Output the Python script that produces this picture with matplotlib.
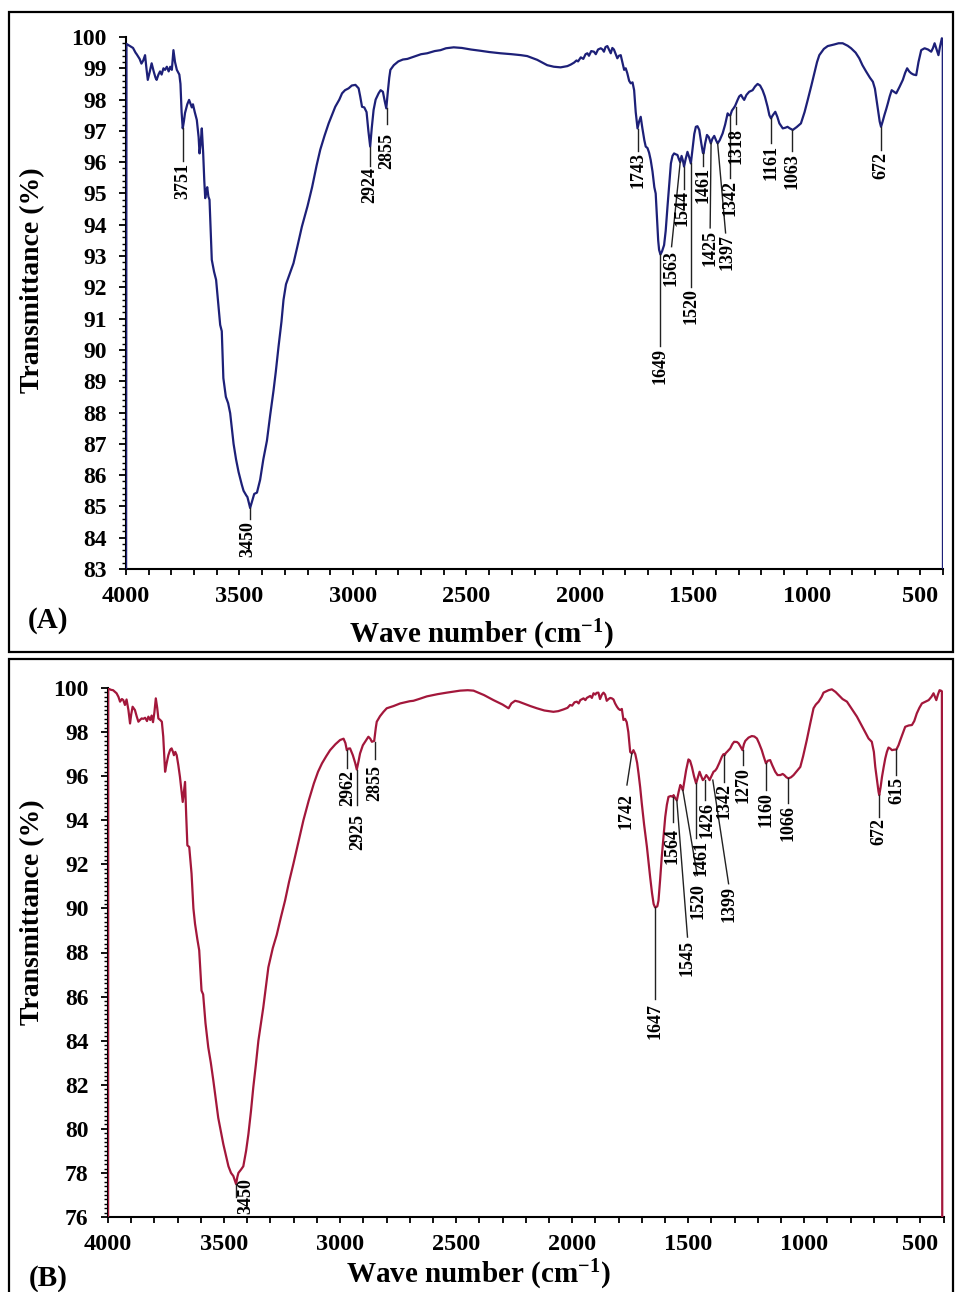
import matplotlib
matplotlib.use("Agg")
import matplotlib.pyplot as plt
from matplotlib.patches import Rectangle
from matplotlib.ticker import MultipleLocator

plt.rcParams['font.family'] = ['Liberation Serif', 'DejaVu Serif']
plt.rcParams['font.weight'] = 'bold'
plt.rcParams['mathtext.fontset'] = 'custom'
plt.rcParams['mathtext.rm'] = 'Liberation Serif:bold'
plt.rcParams['mathtext.bf'] = 'Liberation Serif:bold'
plt.rcParams['mathtext.it'] = 'Liberation Serif:bold'

# ---------------- Data: spectrum A ----------------
wn_a = [4000, 3998, 3985, 3969, 3958, 3953, 3940, 3932, 3924, 3916, 3910, 3904, 3895, 3887, 3878, 3870,
        3865, 3857, 3850, 3843, 3835, 3828, 3820, 3812, 3805, 3798, 3791, 3784, 3776, 3765, 3760, 3755,
        3750, 3745, 3740, 3730, 3722, 3715, 3710, 3705, 3697, 3688, 3680, 3676, 3671, 3666, 3660, 3655,
        3651, 3646, 3642, 3637, 3632, 3627, 3622, 3612, 3603, 3595, 3585, 3578, 3571, 3560, 3550, 3541,
        3526, 3515, 3504, 3490, 3482, 3470, 3465, 3453, 3447, 3441, 3435, 3423, 3409, 3395, 3379, 3365,
        3350, 3340, 3328, 3315, 3306, 3295, 3280, 3262, 3245, 3225, 3200, 3180, 3160, 3144, 3125, 3107,
        3090, 3078, 3060, 3048, 3035, 3019, 3005, 2989, 2975, 2968, 2960, 2950, 2940, 2932, 2924, 2917,
        2909, 2900, 2887, 2878, 2868, 2860, 2853, 2847, 2840, 2835, 2820, 2800, 2780, 2760, 2732, 2700,
        2673, 2640, 2614, 2590, 2556, 2520, 2480, 2438, 2400, 2350, 2300, 2260, 2232, 2210, 2188, 2165,
        2144, 2115, 2085, 2055, 2040, 2026, 2015, 2008, 1996, 1985, 1975, 1967, 1960, 1950, 1938, 1930,
        1920, 1908, 1900, 1894, 1887, 1879, 1872, 1864, 1857, 1850, 1842, 1835, 1828, 1820, 1813, 1805,
        1798, 1791, 1783, 1776, 1768, 1761, 1754, 1746, 1739, 1732, 1725, 1716, 1710, 1702, 1695, 1688,
        1680, 1672, 1666, 1660, 1655, 1651, 1645, 1638, 1629, 1622, 1614, 1606, 1599, 1592, 1585, 1577,
        1570, 1564, 1558, 1552, 1546, 1541, 1534, 1526, 1518, 1511, 1504, 1496, 1489, 1482, 1474, 1465,
        1458, 1455, 1448, 1440, 1432, 1423, 1416, 1408, 1400, 1393, 1384, 1371, 1360, 1349, 1343, 1337,
        1330, 1323, 1316, 1305, 1298, 1290, 1282, 1276, 1266, 1254, 1245, 1239, 1228, 1217, 1206, 1195,
        1185, 1173, 1165, 1158, 1150, 1139, 1130, 1121, 1106, 1095, 1085, 1075, 1062, 1045, 1026, 1010,
        996, 980, 967, 955, 945, 925, 908, 880, 860, 842, 820, 805, 785, 769, 755, 739,
        722, 709, 700, 695, 685, 679, 673, 666, 658, 650, 643, 635, 626, 616, 606, 592,
        577, 567, 558, 549, 540, 530, 518, 508, 496, 481, 466, 452, 444, 437, 428, 420,
        413, 405, 401, 400]
t_a = [80.0, 99.78, 99.72, 99.65, 99.5, 99.45, 99.3, 99.15, 99.25, 99.42, 99.0, 98.63, 98.9, 99.16, 98.9, 98.7,
       98.63, 98.8, 98.9, 98.8, 99.0, 98.95, 99.05, 98.9, 99.05, 98.95, 99.58, 99.2, 98.95, 98.8, 98.5, 97.6,
       97.08, 97.3, 97.57, 97.85, 97.99, 97.85, 97.75, 97.85, 97.6, 97.35, 96.8, 96.28, 96.6, 97.08, 96.3, 95.4,
       94.85, 95.1, 95.2, 94.9, 94.8, 93.8, 92.88, 92.5, 92.24, 91.6, 90.8, 90.6, 89.1, 88.5, 88.3, 87.98,
       87.0, 86.5, 86.1, 85.7, 85.5, 85.35, 85.3, 84.95, 85.1, 85.26, 85.4, 85.44, 85.85, 86.5, 87.1, 87.9,
       88.7, 89.3, 90.1, 90.9, 91.6, 92.1, 92.4, 92.77, 93.3, 93.94, 94.6, 95.2, 95.9, 96.4, 96.85, 97.24,
       97.55, 97.77, 98.0, 98.2, 98.3, 98.36, 98.45, 98.47, 98.36, 98.1, 97.77, 97.75, 97.6, 97.0, 96.5, 97.1,
       97.67, 98.0, 98.2, 98.3, 98.25, 97.95, 97.72, 98.2, 98.7, 98.95, 99.1, 99.22, 99.28, 99.3, 99.37, 99.45,
       99.48, 99.55, 99.58, 99.64, 99.67, 99.65, 99.6, 99.56, 99.52, 99.48, 99.45, 99.42, 99.39, 99.33, 99.27, 99.18,
       99.1, 99.05, 99.03, 99.07, 99.12, 99.18, 99.25, 99.22, 99.35, 99.3, 99.45, 99.48, 99.4, 99.55, 99.53, 99.45,
       99.6, 99.64, 99.6, 99.53, 99.68, 99.71, 99.6, 99.48, 99.65, 99.6, 99.45, 99.32, 99.4, 99.42, 99.2, 98.95,
       99.0, 98.84, 98.6, 98.52, 98.55, 98.3, 97.6, 97.08, 97.3, 97.45, 97.1, 96.7, 96.5, 96.45, 96.3, 96.07,
       95.7, 95.2, 95.0, 94.2, 93.5, 93.2, 93.05, 93.15, 93.35, 93.8, 94.58, 95.3, 95.96, 96.2, 96.28, 96.25,
       96.23, 96.1, 96.0, 96.2, 96.05, 95.86, 96.1, 96.33, 96.15, 95.96, 96.4, 96.9, 97.13, 97.15, 97.03, 96.6,
       96.3, 96.28, 96.6, 96.87, 96.8, 96.6, 96.75, 96.84, 96.7, 96.6, 96.7, 96.92, 97.2, 97.56, 97.5, 97.5,
       97.65, 97.72, 97.8, 97.99, 98.1, 98.15, 98.05, 97.99, 98.15, 98.25, 98.28, 98.3, 98.42, 98.5, 98.45, 98.3,
       98.1, 97.77, 97.5, 97.4, 97.5, 97.61, 97.45, 97.24, 97.08, 97.1, 97.13, 97.08, 97.03, 97.12, 97.24, 97.6,
       97.99, 98.45, 98.84, 99.2, 99.42, 99.62, 99.71, 99.76, 99.8, 99.8, 99.72, 99.64, 99.5, 99.32, 99.1, 98.9,
       98.7, 98.57, 98.35, 98.1, 97.6, 97.3, 97.13, 97.3, 97.51, 97.7, 97.88, 98.1, 98.3, 98.25, 98.2, 98.4,
       98.63, 98.85, 99.0, 98.9, 98.84, 98.8, 98.78, 99.2, 99.58, 99.64, 99.6, 99.53, 99.65, 99.8, 99.6, 99.42,
       99.7, 99.96, 99.9, 80.0]

# ---------------- Data: spectrum B ----------------
wn_b = [4000, 3999, 3988, 3978, 3963, 3955, 3948, 3940, 3934, 3927, 3920, 3912, 3905, 3900, 3894, 3884,
        3876, 3869, 3862, 3855, 3848, 3840, 3832, 3826, 3818, 3812, 3806, 3800, 3794, 3788, 3783, 3775,
        3768, 3762, 3754, 3747, 3740, 3732, 3726, 3720, 3716, 3710, 3704, 3697, 3690, 3684, 3678, 3673,
        3668, 3663, 3658, 3650, 3645, 3640, 3632, 3625, 3615, 3607, 3597, 3590, 3580, 3568, 3557, 3546,
        3535, 3525, 3514, 3503, 3492, 3481, 3470, 3460, 3448, 3443, 3438, 3427, 3417, 3405, 3395, 3384,
        3374, 3363, 3352, 3341, 3331, 3320, 3309, 3290, 3273, 3255, 3237, 3220, 3201, 3180, 3158, 3135,
        3113, 3095, 3078, 3060, 3043, 3020, 3000, 2985, 2977, 2971, 2964, 2957, 2945, 2935, 2928, 2920,
        2914, 2902, 2892, 2878, 2870, 2863, 2853, 2846, 2842, 2828, 2813, 2799, 2770, 2741, 2700, 2684,
        2660, 2626, 2580, 2540, 2500, 2483, 2450, 2425, 2380, 2339, 2300, 2274, 2262, 2246, 2230, 2210,
        2180, 2152, 2120, 2081, 2060, 2037, 2020, 2009, 2000, 1990, 1980, 1972, 1965, 1951, 1943, 1937,
        1922, 1915, 1908, 1900, 1895, 1887, 1880, 1872, 1865, 1858, 1851, 1843, 1836, 1829, 1822, 1815,
        1807, 1800, 1793, 1786, 1779, 1772, 1765, 1758, 1750, 1743, 1736, 1728, 1720, 1714, 1707, 1700,
        1690, 1678, 1670, 1664, 1656, 1649, 1643, 1638, 1633, 1628, 1621, 1614, 1606, 1599, 1592, 1585,
        1575, 1566, 1563, 1556, 1549, 1541, 1534, 1528, 1523, 1516, 1509, 1499, 1492, 1484, 1475, 1466,
        1458, 1451, 1444, 1437, 1430, 1422, 1415, 1408, 1400, 1391, 1384, 1377, 1366, 1355, 1348, 1343,
        1338, 1333, 1319, 1310, 1302, 1290, 1283, 1275, 1266, 1260, 1254, 1240, 1226, 1215, 1204, 1195,
        1183, 1175, 1165, 1157, 1147, 1138, 1125, 1115, 1103, 1093, 1086, 1077, 1068, 1057, 1046, 1030,
        1017, 1005, 989, 975, 960, 950, 938, 925, 917, 905, 895, 881, 865, 852, 835, 816,
        795, 773, 750, 735, 723, 709, 700, 694, 686, 680, 677, 671, 665, 658, 651, 644,
        637, 629, 622, 614, 603, 594, 586, 575, 565, 550, 536, 526, 515, 504, 493, 478,
        464, 452, 443, 437, 431, 424, 417, 411, 407, 405]
t_b = [70.0, 99.98, 99.92, 99.9, 99.76, 99.6, 99.38, 99.5, 99.45, 99.23, 99.48, 99.0, 98.39, 98.8, 99.15, 99.0,
       98.7, 98.47, 98.55, 98.62, 98.6, 98.65, 98.5, 98.7, 98.55, 98.75, 98.45, 98.9, 99.53, 99.1, 98.62, 98.55,
       98.47, 97.8, 96.2, 96.6, 96.95, 97.2, 97.26, 97.1, 96.95, 97.1, 96.95, 96.5, 95.97, 95.4, 94.83, 95.3,
       95.74, 94.2, 92.86, 92.79, 92.2, 91.58, 90.0, 89.3, 88.6, 88.1, 86.27, 86.1, 84.8, 83.7, 83.0, 82.18,
       81.3, 80.5, 79.9, 79.3, 78.8, 78.3, 78.0, 77.86, 77.49, 77.8, 78.0, 78.15, 78.3, 79.0, 79.76, 80.8,
       81.88, 82.9, 84.0, 84.8, 85.5, 86.4, 87.33, 88.2, 88.8, 89.6, 90.36, 91.2, 92.03, 93.0, 94.0, 94.9,
       95.67, 96.2, 96.58, 96.9, 97.18, 97.45, 97.64, 97.7, 97.5, 97.18, 97.25, 97.26, 96.95, 96.6, 96.3, 96.7,
       97.03, 97.4, 97.56, 97.79, 97.7, 97.56, 97.6, 98.2, 98.47, 98.72, 98.92, 99.08, 99.18, 99.3, 99.4, 99.42,
       99.5, 99.62, 99.72, 99.79, 99.85, 99.88, 99.9, 99.88, 99.68, 99.45, 99.25, 99.08, 99.3, 99.42, 99.38, 99.3,
       99.18, 99.08, 98.98, 98.92, 98.95, 99.03, 99.1, 99.23, 99.2, 99.35, 99.38, 99.3, 99.45, 99.53, 99.45, 99.55,
       99.64, 99.55, 99.76, 99.7, 99.78, 99.79, 99.5, 99.7, 99.79, 99.7, 99.42, 99.5, 99.55, 99.53, 99.48, 99.3,
       99.15, 99.05, 99.0, 99.05, 98.55, 98.6, 98.45, 98.0, 97.1, 97.03, 97.18, 97.0, 96.6, 96.12, 95.5, 94.76,
       93.8, 92.8, 92.0, 91.42, 90.7, 90.2, 90.05, 90.06, 90.1, 90.36, 91.3, 92.33, 93.3, 94.15, 94.7, 95.06,
       95.1, 95.06, 95.14, 95.0, 94.9, 95.3, 95.6, 95.5, 95.36, 95.8, 96.27, 96.76, 96.7, 96.42, 96.0, 95.67,
       95.95, 96.2, 96.0, 95.82, 95.9, 96.05, 95.95, 95.82, 96.0, 96.2, 96.25, 96.35, 96.6, 96.88, 97.0, 96.95,
       97.05, 97.1, 97.26, 97.45, 97.56, 97.55, 97.49, 97.35, 97.18, 97.45, 97.6, 97.75, 97.82, 97.8, 97.71, 97.5,
       97.18, 96.9, 96.58, 96.7, 96.73, 96.5, 96.2, 96.05, 96.05, 96.1, 96.05, 95.95, 95.9, 95.95, 96.05, 96.25,
       96.42, 96.9, 97.64, 98.35, 99.08, 99.25, 99.38, 99.6, 99.79, 99.85, 99.9, 99.94, 99.82, 99.68, 99.5, 99.38,
       99.05, 98.7, 98.25, 97.95, 97.71, 97.56, 97.1, 96.42, 95.8, 95.3, 95.14, 95.5, 95.97, 96.4, 96.8, 97.1,
       97.3, 97.25, 97.18, 97.2, 97.21, 97.4, 97.64, 97.95, 98.24, 98.3, 98.32, 98.5, 98.85, 99.1, 99.3, 99.38,
       99.45, 99.6, 99.76, 99.6, 99.45, 99.7, 99.9, 99.88, 99.85, 70.0]

# ---------------- Peak labels ----------------
# text, peak (wn, T), line end (wn, T), text top (wn, T)
lab_a_text = ['3751', '3450', '2924', '2855', '1743', '1649', '1563', '1544', '1520',
              '1461', '1425', '1397', '1342', '1318', '1161', '1063', '672']
lab_a_pwn = [3750, 3453, 2924, 2852, 1745, 1648, 1558, 1541, 1511, 1456, 1422, 1393, 1338, 1313, 1158, 1064, 673]
lab_a_pt = [97.08, 84.95, 96.5, 97.72, 97.05, 93.05, 96.0, 95.86, 95.96, 96.28, 96.6, 96.6, 97.5, 97.75, 97.4, 97.03, 97.13]
lab_a_lwn = [3750, 3453, 2924, 2852, 1745, 1648, 1596, 1541, 1511, 1456, 1426, 1358, 1338, 1313, 1158, 1064, 673]
lab_a_lt = [96.04, 84.6, 95.88, 97.22, 96.36, 90.13, 93.3, 95.14, 92.01, 95.88, 93.9, 93.74, 95.5, 97.22, 96.6, 96.36, 96.4]
lab_a_twn = [3750, 3465, 2924, 2852, 1745, 1648, 1598, 1550, 1511, 1456, 1428, 1352, 1338, 1313, 1158, 1064, 673]
lab_a_tt = [95.97, 84.54, 95.85, 96.93, 96.33, 90.06, 93.2, 95.1, 91.98, 95.85, 93.83, 93.7, 95.43, 97.1, 96.55, 96.3, 96.33]

lab_b_text = ['3450', '2962', '2925', '2855', '1742', '1647', '1564', '1545', '1520', '1461',
              '1426', '1399', '1342', '1270', '1160', '1066', '672', '615']
lab_b_pwn = [3448, 2969, 2926, 2849, 1743, 1642, 1566, 1549, 1523, 1466, 1427, 1394, 1345, 1266, 1165, 1068, 677, 603]
lab_b_pt = [77.49, 97.18, 96.27, 97.56, 97.03, 90.06, 95.06, 94.9, 95.36, 95.67, 95.82, 95.82, 96.95, 97.18, 96.58, 95.9, 95.14, 97.21]
lab_b_lwn = [3448, 2969, 2926, 2849, 1764, 1642, 1566, 1503, 1461, 1466, 1427, 1326, 1345, 1266, 1165, 1068, 677, 603]
lab_b_lt = [76.9, 96.35, 94.68, 96.8, 95.6, 85.9, 93.92, 88.7, 91.5, 93.18, 94.9, 91.12, 95.74, 96.5, 95.36, 94.76, 94.15, 96.05]
lab_b_twn = [3405, 2969, 2926, 2849, 1768, 1642, 1568, 1503, 1457, 1444, 1420, 1326, 1345, 1266, 1165, 1068, 677, 603]
lab_b_tt = [77.75, 96.3, 94.3, 96.5, 95.23, 85.73, 93.64, 88.55, 91.14, 93.1, 94.82, 91.0, 95.68, 96.41, 95.27, 94.68, 94.09, 95.95]

W, H = 955, 1292
fig = plt.figure(figsize=(W / 100, H / 100), dpi=100)


def fx(px):
    return px / W


def fy(py):
    return 1 - py / H


def setup(ax, ymin, ymax, ymaj, ymin_step):
    ax.set_xlim(4000, 400)
    ax.set_ylim(ymin, ymax)
    for s in ['top', 'right']:
        ax.spines[s].set_visible(False)
    for s in ['left', 'bottom']:
        ax.spines[s].set_linewidth(1.5)
        ax.spines[s].set_color('black')
    ax.xaxis.set_major_locator(MultipleLocator(500))
    ax.xaxis.set_minor_locator(MultipleLocator(100))
    ax.yaxis.set_major_locator(MultipleLocator(ymaj))
    ax.yaxis.set_minor_locator(MultipleLocator(ymin_step))
    ax.tick_params(axis='x', which='major', direction='out', length=4.5, width=1.3,
                   labelsize=17.5, pad=8)
    ax.tick_params(axis='x', which='minor', direction='out', length=4, width=1.3)
    ax.tick_params(axis='y', which='major', direction='out', length=5, width=1.3,
                   labelsize=17, pad=9)
    ax.tick_params(axis='y', which='minor', direction='out', length=3, width=1.0)
    ax.set_xticks([4000, 3500, 3000, 2500, 2000, 1500, 1000, 500])
    for lab in ax.get_xticklabels() + ax.get_yticklabels():
        lab.set_fontweight('bold')


def add_labels(ax, texts, pwn, pt, lwn, lt, twn, tt):
    for s, a, b, c, d, e, f in zip(texts, pwn, pt, lwn, lt, twn, tt):
        ax.plot([a, c], [b, d], color='#222222', lw=1.0, zorder=4, clip_on=False)
        ax.text(e, f, s, rotation=90, ha='center', va='top', fontsize=13,
                fontweight='bold', color='black', zorder=5)


# ---- Panel A ----
axA = fig.add_axes([fx(126), fy(569), fx(943 - 126), (569 - 37) / H])
axA.plot(wn_a, t_a, color='#1d2078', lw=1.6, zorder=3)
setup(axA, 83, 100, 1, 0.2)
add_labels(axA, lab_a_text, lab_a_pwn, lab_a_pt, lab_a_lwn, lab_a_lt, lab_a_twn, lab_a_tt)

# ---- Panel B ----
axB = fig.add_axes([fx(108), fy(1217), fx(943.5 - 108), (1217 - 688) / H])
axB.plot(wn_b, t_b, color='#a3173b', lw=1.6, zorder=3)
setup(axB, 76, 100, 2, 0.2)
add_labels(axB, lab_b_text, lab_b_pwn, lab_b_pt, lab_b_lwn, lab_b_lt, lab_b_twn, lab_b_tt)

# ---- Axis titles and panel letters ----
for yc in (280, 912):
    fig.text(fx(33), fy(yc), 'Transmittance (%)', rotation=90, ha='center', va='center',
             fontsize=20, fontweight='bold')
fig.text(fx(481), fy(635), 'Wave number (cm$^{-1}$)', ha='center', va='center',
         fontsize=21, fontweight='bold')
fig.text(fx(478), fy(1275), 'Wave number (cm$^{-1}$)', ha='center', va='center',
         fontsize=21, fontweight='bold')
fig.text(fx(48), fy(621), '(A)', ha='center', va='center', fontsize=21, fontweight='bold')
fig.text(fx(48), fy(1278), '(B)', ha='center', va='center', fontsize=21, fontweight='bold')

# ---- Panel frames ----
fig.patches.append(Rectangle((fx(9), fy(652)), fx(953 - 9), (652 - 12) / H,
                             transform=fig.transFigure, fill=False, lw=1.6,
                             edgecolor='black', clip_on=False))
fig.patches.append(Rectangle((fx(9), fy(1300)), fx(953 - 9), (1300 - 659) / H,
                             transform=fig.transFigure, fill=False, lw=1.6,
                             edgecolor='black', clip_on=False))

fig.savefig('out.png', dpi=100)
